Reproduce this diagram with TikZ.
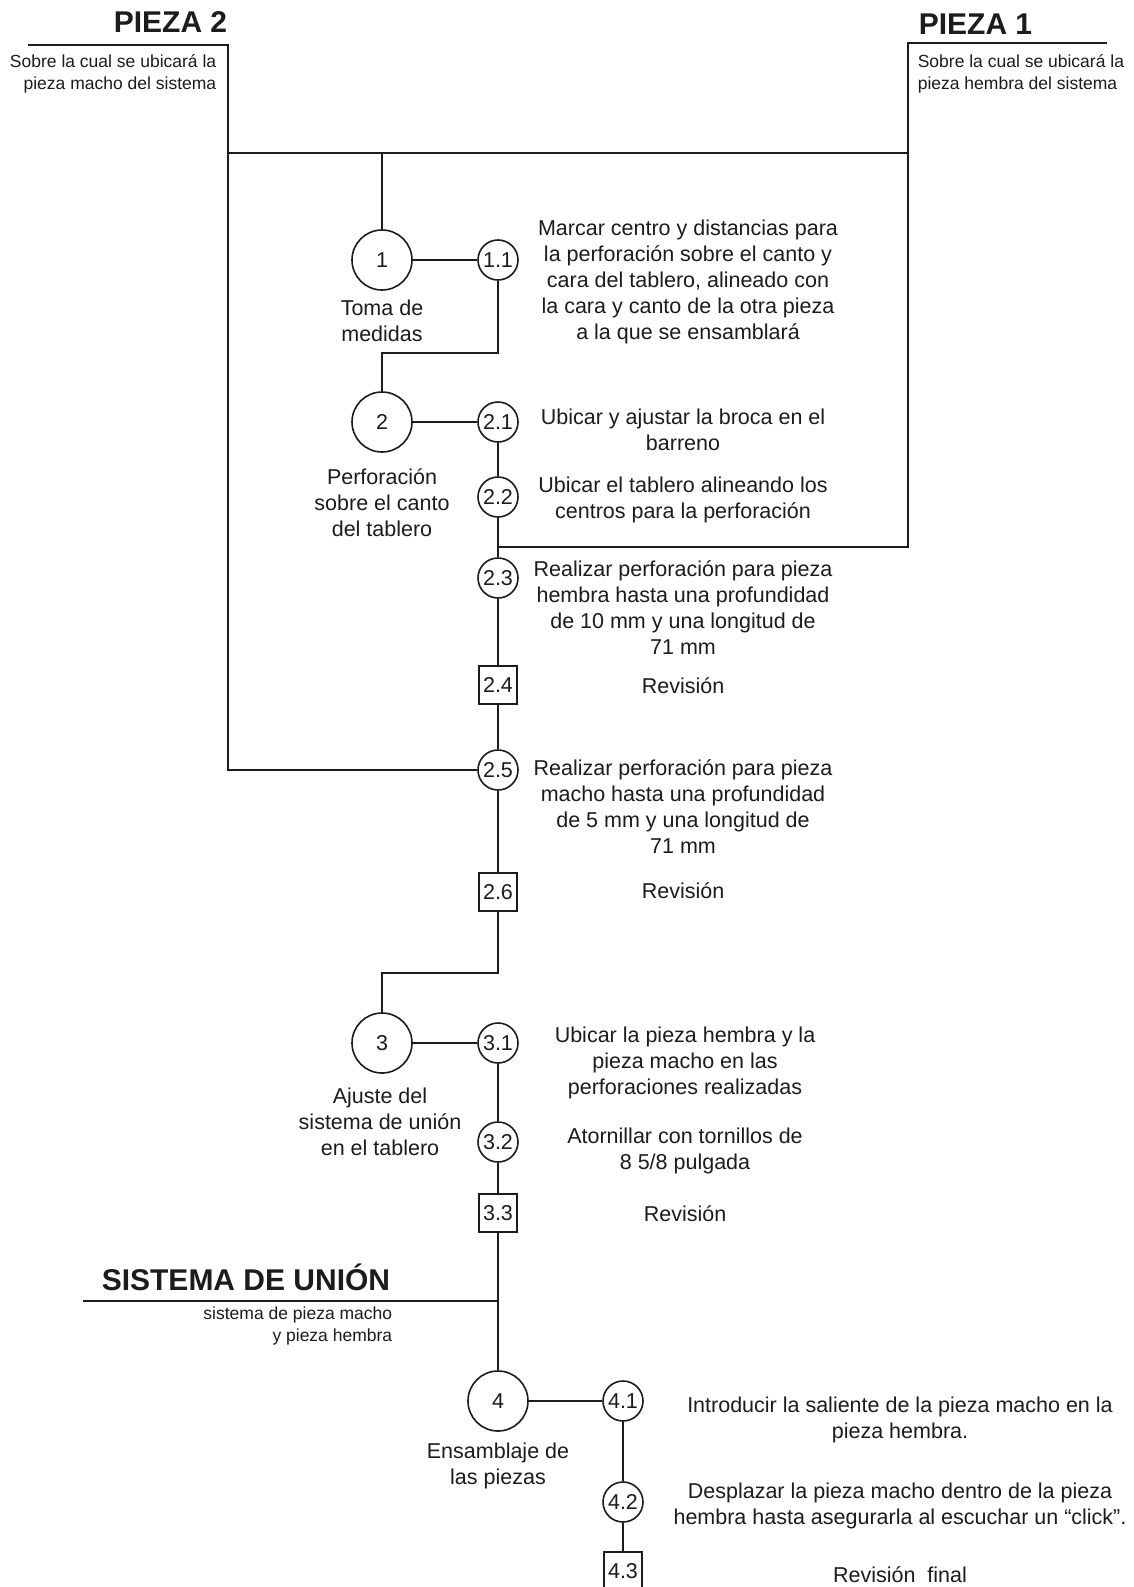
\documentclass[tikz,border=0pt]{standalone}
\usepackage{fontspec}
\setmainfont{Liberation Sans}
\definecolor{ink}{RGB}{28,28,28}
\begin{document}
\begin{tikzpicture}[x=1pt,y=-1pt,
  line width=1.6pt, draw=ink, text=ink,
  body/.style={font=\fontsize{21.5pt}{26pt}\selectfont, align=center, inner sep=0pt},
  small/.style={font=\fontsize{17.5pt}{22pt}\selectfont, inner sep=0pt},
  title/.style={font=\fontsize{30pt}{30pt}\selectfont\bfseries, inner sep=0pt},
  bigc/.style={circle, draw, minimum size=60pt, inner sep=0pt, font=\fontsize{21.5pt}{26pt}\selectfont},
  smc/.style={circle, draw, minimum size=40pt, inner sep=0pt, font=\fontsize{21.5pt}{26pt}\selectfont},
  sq/.style={rectangle, draw, minimum size=38pt, inner sep=0pt, font=\fontsize{21.5pt}{26pt}\selectfont}]
\useasboundingbox (0,0) rectangle (1134,1587);
\fill[white] (0,0) rectangle (1134,1587);

% titles
\node[title, anchor=base east] (piezaB) at (228,33) {PIEZA 2};
\node[small, align=right, anchor=east] (piezaBs) at (217,74) {Sobre la cual se ubicará la\\pieza macho del sistema};
\node[title, anchor=base west] (piezaA) at (918,35) {PIEZA 1};
\node[small, align=left, anchor=west] (piezaAs) at (917,74) {Sobre la cual se ubicará la\\pieza hembra del sistema};
\node[title, anchor=base west] (sist) at (101,1290) {SISTEMA DE UNIÓN};
\node[small, align=right, anchor=east] (sists) at (393,1326) {sistema de pieza macho\\y pieza hembra};

% process symbols
\node[bigc] (c1) at (382,260) {1};
\node[smc] (c11) at (498,260) {1.1};
\node[bigc] (c2) at (382,422) {2};
\node[smc] (c21) at (498,422) {2.1};
\node[smc] (c22) at (498,497) {2.2};
\node[smc] (c23) at (498,578) {2.3};
\node[sq] (c24) at (498,685) {2.4};
\node[smc] (c25) at (498,770) {2.5};
\node[sq] (c26) at (498,892) {2.6};
\node[bigc] (c3) at (382,1043) {3};
\node[smc] (c31) at (498,1043) {3.1};
\node[smc] (c32) at (498,1142) {3.2};
\node[sq] (c33) at (498,1213) {3.3};
\node[bigc] (c4) at (498,1401) {4};
\node[smc] (c41) at (623,1401) {4.1};
\node[smc] (c42) at (623,1502) {4.2};
\node[sq] (c43) at (623,1571) {4.3};

% coordinates
\coordinate (p2a) at (28,45);
\coordinate (p2b) at (228,45);
\coordinate (p2c) at (228,153);
\coordinate (p2d) at (228,770);
\coordinate (p1a) at (1107,43);
\coordinate (p1b) at (908,43);
\coordinate (p1c) at (908,153);
\coordinate (p1d) at (908,547);
\coordinate (p1e) at (498,547);
\coordinate (j1) at (382,153);
\coordinate (k1) at (498,353);
\coordinate (k2) at (382,353);
\coordinate (m1) at (498,973);
\coordinate (m2) at (382,973);
\coordinate (s1) at (83,1301);
\coordinate (s2) at (498,1301);

% connectors
\draw (p2a) -- (p2b) -- (p2d) -- (c25);
\draw (p2c) -- (p1c);
\draw (p1a) -- (p1b) -- (p1d) -- (p1e);
\draw (j1) -- (c1);
\draw (c1) -- (c11);
\draw (c11) -- (k1) -- (k2) -- (c2);
\draw (c2) -- (c21);
\draw (c21) -- (c22);
\draw (c22) -- (c23);
\draw (c23) -- (c24);
\draw (c24) -- (c25);
\draw (c25) -- (c26);
\draw (c26) -- (m1) -- (m2) -- (c3);
\draw (c3) -- (c31);
\draw (c31) -- (c32);
\draw (c32) -- (c33);
\draw (c33) -- (c4);
\draw (s1) -- (s2);
\draw (c4) -- (c41);
\draw (c41) -- (c42);
\draw (c42) -- (c43);

% descriptions
\node[body] (t11) at (688,282) {Marcar centro y distancias para\\la perforación sobre el canto y\\cara del tablero, alineado con\\la cara y canto de la otra pieza\\a la que se ensamblará};
\node[body] (t21) at (683,430) {Ubicar y ajustar la broca en el\\barreno};
\node[body] (t22) at (683,500) {Ubicar el tablero alineando los\\centros para la perforación};
\node[body] (t23) at (683,608) {Realizar perforación para pieza\\hembra hasta una profundidad\\de 10 mm y una longitud de\\71 mm};
\node[body] (t24) at (683,686) {Revisión};
\node[body] (t25) at (683,807) {Realizar perforación para pieza\\macho hasta una profundidad\\de 5 mm y una longitud de\\71 mm};
\node[body] (t26) at (683,891) {Revisión};
\node[body] (t31) at (685,1063) {Ubicar la pieza hembra y la\\pieza macho en las\\perforaciones realizadas};
\node[body] (t32) at (685,1151) {Atornillar con tornillos de\\8 5/8 pulgada};
\node[body] (t33) at (685,1214) {Revisión};
\node[body] (t41) at (900,1420) {Introducir la saliente de la pieza macho en la\\pieza hembra.};
\node[body] (t42) at (900,1506) {Desplazar la pieza macho dentro de la pieza\\hembra hasta asegurarla al escuchar un “click”.};
\node[body] (t43) at (900,1575) {Revisión~ final};

% operation labels
\node[body] (l1) at (382,321) {Toma de\\medidas};
\node[body] (l2) at (382,503) {Perforación\\sobre el canto\\del tablero};
\node[body] (l3) at (380,1122) {Ajuste del\\sistema de unión\\en el tablero};
\node[body] (l4) at (498,1466) {Ensamblaje de\\las piezas};
\end{tikzpicture}
\end{document}
